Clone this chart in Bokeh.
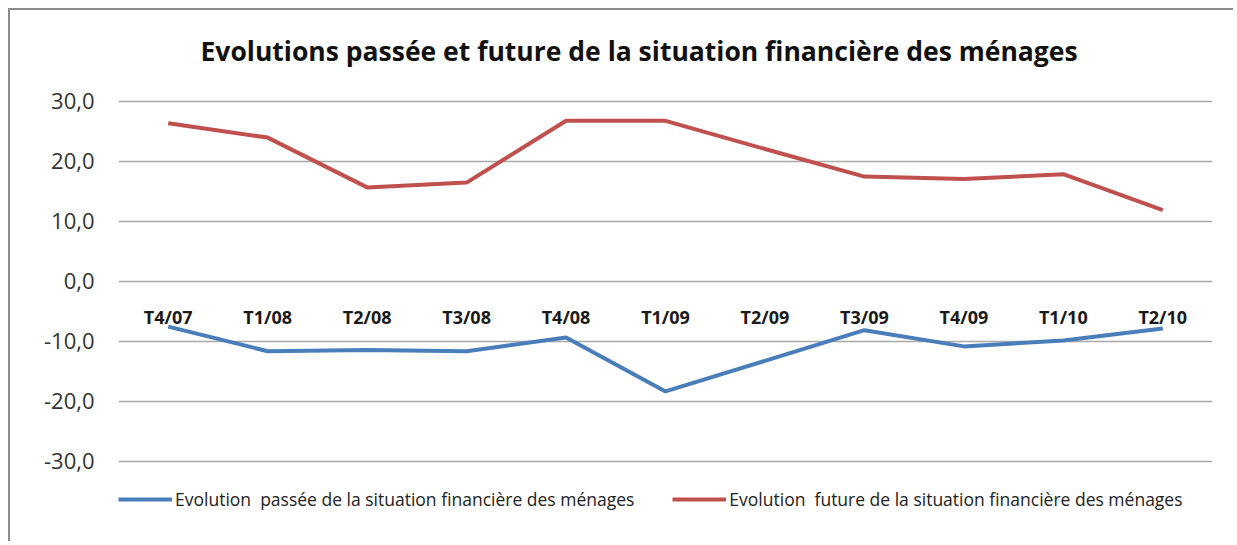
from bokeh.plotting import figure
from bokeh.models import (FactorRange, Range1d, FixedTicker, CustomJSTickFormatter,
                          Legend, LegendItem, ColumnDataSource)
from bokeh.core.properties import value
from bokeh.embed import file_html
from bokeh.resources import INLINE

# ---- data ----
quarters = ["T4/07", "T1/08", "T2/08", "T3/08", "T4/08", "T1/09",
            "T2/09", "T3/09", "T4/09", "T1/10", "T2/10"]
passee = [-7.6, -11.7, -11.5, -11.7, -9.4, -18.4, -13.3, -8.2, -10.9, -9.9, -7.9]
future = [26.3, 23.9, 15.6, 16.4, 26.7, 26.7, 22.0, 17.4, 17.0, 17.8, 11.8]
yticks = [-30, -20, -10, 0, 10, 20, 30]
category_axis_value = 0
title_text = "Evolutions passée et future de la situation financière des ménages"
label_passee = "Evolution  passée de la situation financière des ménages"
label_future = "Evolution  future de la situation financière des ménages"

BLUE = "#4a7ebb"
RED = "#c0504d"

# layout constants (pixels)
W, H = 1225, 533
MB_TOP, MB_BOTTOM = 58, 10
PX_PER_UNIT = 6.0
GAP_ABOVE_TOP_TICK = 32.5          # empty band between frame top and the top gridline
frame_h = H - MB_TOP - MB_BOTTOM
y_top = max(yticks) + GAP_ABOVE_TOP_TICK / PX_PER_UNIT
y_bottom = y_top - frame_h / PX_PER_UNIT   # extra room under -30 holds the legend

p = figure(width=W, height=H, output_backend="svg", toolbar_location=None,
           x_range=FactorRange(*quarters, range_padding=0),
           y_range=Range1d(y_bottom, y_top),
           min_border_left=108, min_border_right=23,
           min_border_top=MB_TOP, min_border_bottom=MB_BOTTOM,
           title=title_text)
p.margin = (8, 0, 0, 8)
p.styles = {"border-left": "2px solid #8c8c8c", "border-top": "2px solid #8c8c8c"}
p.outline_line_color = None
p.background_fill_color = "white"
p.border_fill_color = "white"

p.title.align = "left"
p.title.offset = 82
p.title.text_font = "Open Sans"
p.title.text_font_size = "26.5px"
p.title.text_font_style = "bold"
p.title.text_color = "#111111"
p.title.standoff = 0

# y axis
p.yaxis.ticker = FixedTicker(ticks=yticks)
p.yaxis.formatter = CustomJSTickFormatter(code="return tick.toFixed(1).replace('.', ',');")
p.yaxis.axis_line_color = None
p.yaxis.major_tick_line_color = None
p.yaxis.minor_tick_line_color = None
p.yaxis.major_tick_out = 0
p.yaxis.major_tick_in = 0
p.yaxis.major_label_standoff = 24
p.yaxis.major_label_text_font = "Open Sans"
p.yaxis.major_label_text_font_size = "22px"
p.yaxis.major_label_text_color = "#333333"

p.ygrid.ticker = FixedTicker(ticks=yticks)
p.ygrid.grid_line_color = "#a8a8a8"
p.ygrid.grid_line_width = 1.3
p.xgrid.grid_line_color = None

# category labels sit just under the 0 line
p.xaxis.visible = False
lab = ColumnDataSource(dict(x=quarters, y=[category_axis_value] * len(quarters), t=quarters))
p.text(x="x", y="y", text="t", source=lab, y_offset=36,
       text_align="center", text_baseline="middle",
       text_font=value("Open Sans"), text_font_style="bold",
       text_font_size="18px", text_color="#1a1a1a")

r1 = p.line(quarters, passee, line_color=BLUE, line_width=4)
r2 = p.line(quarters, future, line_color=RED, line_width=4)

legend = Legend(items=[LegendItem(label=label_passee, renderers=[r1]),
                       LegendItem(label=label_future, renderers=[r2])],
                orientation="horizontal", location=(0, 22),
                glyph_width=54, glyph_height=20, label_standoff=3, spacing=38,
                padding=0, margin=0, border_line_color=None,
                background_fill_alpha=0,
                label_text_font="Open Sans", label_text_font_size="17.5px",
                label_text_color="#222222")
p.add_layout(legend, "center")

open("out.html", "w").write(file_html(p, INLINE))
